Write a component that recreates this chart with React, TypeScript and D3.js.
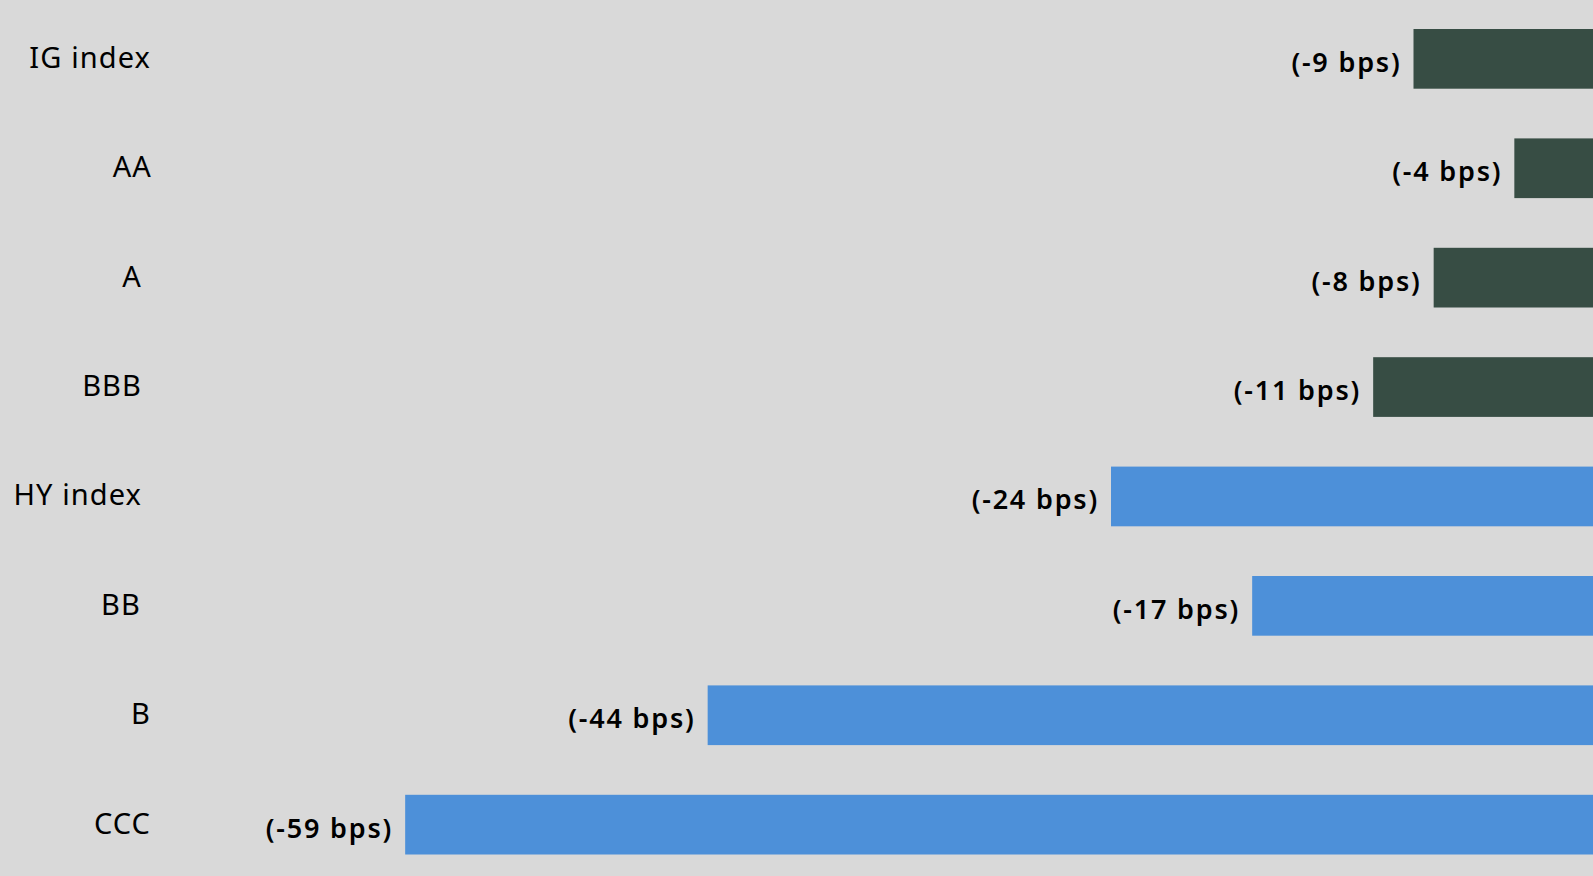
import React from "react";
import * as d3 from "d3";

const categories = ["IG index", "AA", "A", "BBB", "HY index", "BB", "B", "CCC"];
const values = [-9, -4, -8, -11, -24, -17, -44, -59];
const groups = ["IG", "IG", "IG", "IG", "HY", "HY", "HY", "HY"];
const valueLabels = ["(-9 bps)", "(-4 bps)", "(-8 bps)", "(-11 bps)", "(-24 bps)", "(-17 bps)", "(-44 bps)", "(-59 bps)"];

// layout-only: right edge of each category label
const labelRight = [151, 152, 142, 142, 142, 141, 151, 151];

const W = 1593;
const H = 876;
const colors: Record<string, string> = { IG: "#374D44", HY: "#4D90D9" };

export default function App() {
  const x = d3.scaleLinear().domain([-60, 0]).range([385, 1595]);
  const y = d3
    .scaleBand<string>()
    .domain(categories)
    .range([29, 854.5])
    .paddingInner(0.4543)
    .paddingOuter(0);
  const bw = y.bandwidth();

  return (
    <svg
      width={W}
      height={H}
      style={{ position: "absolute", left: 0, top: 0, display: "block" }}
    >
      <rect x={0} y={0} width={W} height={H} fill="#D9D9D9" />
      {categories.map((c, i) => {
        const v = values[i];
        const y0 = y(c) as number;
        const xv = x(v);
        const x0 = x(0);
        const cy = y0 + bw / 2;
        return (
          <g key={c}>
            <rect x={Math.min(xv, x0)} y={y0} width={Math.abs(x0 - xv)} height={bw} fill={colors[groups[i]]} />
            <text
              x={xv - 12}
              y={cy + 13}
              textAnchor="end"
              fontFamily="'Noto Sans', sans-serif"
              fontWeight={600}
              fontSize={27}
              letterSpacing={1.8}
              fill="#000"
            >
              {valueLabels[i]}
            </text>
            <text
              x={labelRight[i]}
              y={cy + 9}
              textAnchor="end"
              fontFamily="'Noto Sans', sans-serif"
              fontWeight={400}
              fontSize={29}
              letterSpacing={1.1}
              fill="#000"
            >
              {c}
            </text>
          </g>
        );
      })}
    </svg>
  );
}
